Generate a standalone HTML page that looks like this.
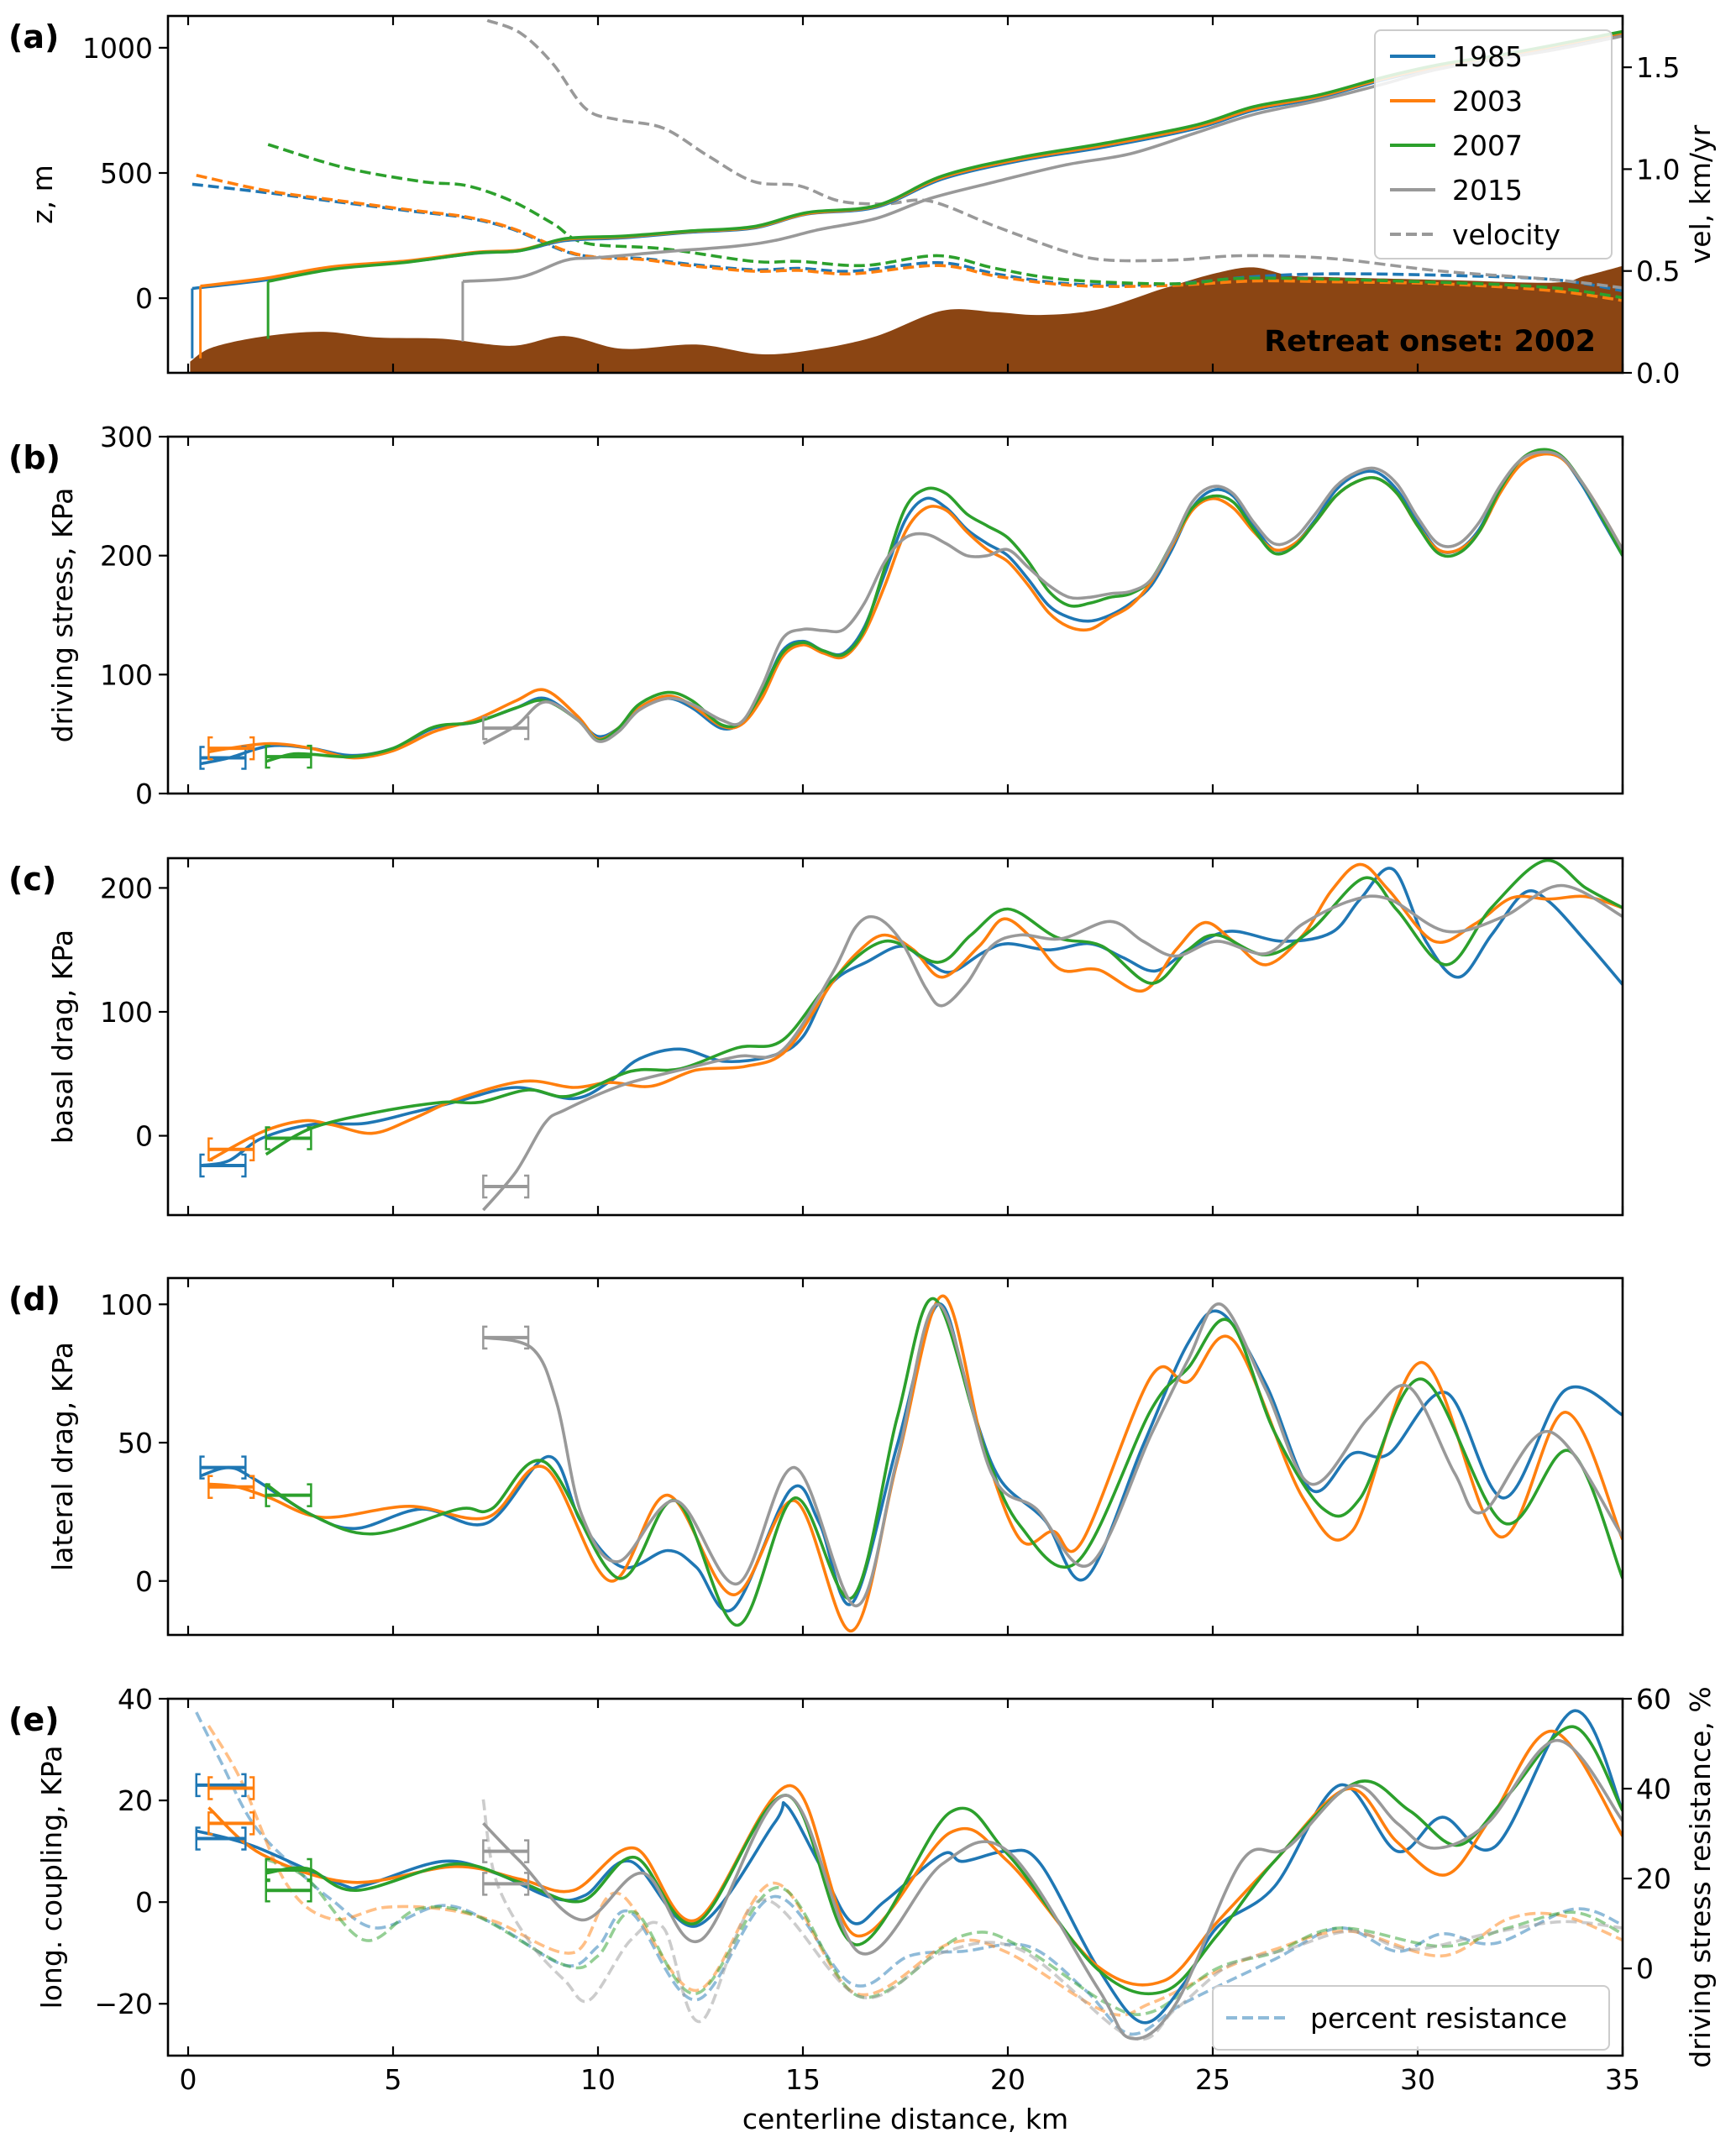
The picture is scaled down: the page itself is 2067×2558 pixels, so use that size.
<!DOCTYPE html>
<html><head><meta charset="utf-8">
<style>
html,body{margin:0;padding:0;background:#fff;}
svg{display:block;font-family:"DejaVu Sans","Liberation Sans",sans-serif;}
</style></head>
<body>
<svg id="fig" xmlns="http://www.w3.org/2000/svg" width="2067" height="2558" viewBox="0 0 2067 2558"></svg>
<script>
// ---------- DATA ----------
const years = ["1985","2003","2007","2015"];
const colors = ["#1f77b4","#ff7f0e","#2ca02c","#999999"];
const xTicks = [0,5,10,15,20,25,30,35];

// Panel (a): surface elevation (m)
const aSurf1985 = [[0.1,39],[1.9,73],[3.5,118],[5.4,146],[7,179],[8.1,190],[9.2,230],[10.6,241],[12.2,263],[13.8,280],[15.1,336],[16.8,364],[18.4,476],[20.3,549],[22.4,605],[24.6,678],[26,750],[27.6,801],[29.2,874],[30.6,924],[31.9,958],[33.3,1002],[35,1058]];
const aSurf2003 = [[0.3,48],[1.9,80],[3.5,125],[5.4,150],[7,183],[8.1,193],[9.2,235],[10.6,245],[12.2,266],[13.8,283],[15.1,338],[16.8,368],[18.4,482],[20.3,555],[22.4,612],[24.6,684],[26,756],[27.6,806],[29.2,878],[30.6,928],[31.9,962],[33.3,1005],[35,1060]];
const aSurf2007 = [[1.95,67],[3.5,115],[5.4,145],[7,180],[8.1,190],[9.2,238],[10.6,248],[12.2,268],[13.8,286],[15.1,342],[16.8,370],[18.4,488],[20.3,562],[22.4,620],[24.6,692],[26,765],[27.6,812],[29.2,884],[30.6,935],[31.9,968],[33.3,1010],[35,1065]];
const aSurf2015 = [[6.7,67],[8.1,84],[9.2,151],[10,162],[11.6,185],[13.3,207],[14.3,230],[15.4,274],[16.8,319],[18.1,398],[19.7,465],[21.4,532],[23,577],[24.6,661],[26,734],[27.6,790],[29.2,857],[30.6,918],[33.3,991],[35,1047]];
const aTermBase = [-240,-240,-162,-173];
const aBed = [[0.05,-253],[0.6,-196],[1.9,-151],[3.3,-134],[4.6,-157],[6.2,-162],[7.9,-190],[9.2,-151],[10.6,-202],[12.4,-185],[14,-224],[15.4,-202],[16.8,-151],[18.4,-50],[19.7,-56],[20.8,-67],[22.2,-45],[23.8,39],[25.1,101],[26,123],[26.9,90],[27.9,84],[30.6,73],[33.3,62],[34.1,90],[35,129]];
// velocity km/yr (right axis)
const aVel1985 = [[0.1,0.926],[1.9,0.885],[3.5,0.843],[5.4,0.795],[6.8,0.761],[7.9,0.706],[9.2,0.596],[10,0.568],[11.1,0.561],[12.2,0.534],[13.8,0.506],[14.9,0.513],[16.2,0.499],[18.3,0.541],[19.7,0.486],[21.1,0.444],[22.4,0.431],[24.1,0.437],[26,0.472],[27.9,0.486],[30.6,0.479],[33.3,0.458],[35,0.403]];
const aVel2003 = [[0.2,0.97],[1.9,0.895],[3.5,0.85],[5.4,0.80],[6.8,0.765],[7.9,0.71],[9.2,0.60],[10,0.566],[11.1,0.556],[12.2,0.527],[13.8,0.499],[14.9,0.503],[16.2,0.486],[18.3,0.527],[19.7,0.475],[21.1,0.437],[22.4,0.424],[24.1,0.43],[26,0.451],[27.9,0.447],[30.6,0.437],[33.3,0.403],[35,0.355]];
const aVel2007 = [[1.95,1.121],[3.8,1.008],[5.7,0.939],[6.8,0.919],[7.9,0.843],[8.9,0.733],[9.7,0.637],[11.6,0.609],[13.8,0.547],[14.9,0.547],[16.5,0.527],[18.3,0.575],[19.7,0.513],[21.4,0.458],[24.1,0.437],[26,0.465],[30.6,0.444],[33.3,0.417],[35,0.369]];
const aVel2015 = [[7.3,1.73],[8.1,1.669],[8.9,1.517],[9.7,1.297],[10.5,1.242],[11.6,1.201],[12.7,1.063],[13.8,0.939],[14.9,0.919],[15.9,0.843],[17,0.829],[18.1,0.843],[19.7,0.719],[21.4,0.596],[22.4,0.554],[24.1,0.554],[25.7,0.575],[27.9,0.561],[30.6,0.499],[33.3,0.458],[35,0.417]];

// Panel (b): driving stress
const b1985 = [[0.3,25],[1,30],[2,40],[3,38],[4,32],[5,38],[6,55],[7,60],[8,72],[8.7,80],[9.5,62],[10,48],[10.5,55],[11,72],[11.7,80],[12.3,72],[13,55],[13.5,60],[14,85],[14.5,120],[15,128],[15.5,120],[16,118],[16.5,140],[17,185],[17.5,230],[18,248],[18.5,240],[19,222],[19.5,210],[20,200],[20.5,180],[21,158],[21.5,148],[22,145],[22.5,150],[23,160],[23.5,175],[24,205],[24.5,240],[25,255],[25.5,250],[26,225],[26.5,205],[27,210],[27.5,230],[28,255],[28.5,268],[29,270],[29.5,255],[30,228],[30.5,205],[31,205],[31.5,222],[32,255],[32.5,280],[33,288],[33.5,283],[34,260],[34.5,230],[35,200]];
const b2003 = [[0.5,35],[1,38],[2,42],[3,38],[4,30],[5,36],[6,52],[7,62],[8,78],[8.7,87],[9.5,65],[10,46],[10.5,55],[11,72],[11.7,82],[12.3,74],[13,57],[13.5,58],[14,80],[14.5,115],[15,125],[15.5,118],[16,115],[16.5,135],[17,175],[17.5,220],[18,240],[18.5,238],[19,220],[19.5,205],[20,195],[20.5,175],[21,152],[21.5,140],[22,138],[22.5,148],[23,158],[23.5,178],[24,208],[24.5,238],[25,248],[25.5,240],[26,220],[26.5,205],[27,210],[27.5,228],[28,250],[28.5,262],[29,265],[29.5,252],[30,225],[30.5,205],[31,205],[31.5,220],[32,252],[32.5,276],[33,285],[33.5,282],[34,262],[34.5,235],[35,205]];
const b2007 = [[1.9,27],[2.5,33],[3,33],[4,31],[5,38],[6,56],[7,60],[8,72],[8.7,78],[9.5,62],[10,45],[10.5,55],[11,75],[11.7,85],[12.3,78],[13,58],[13.5,60],[14,85],[14.5,118],[15,127],[15.5,120],[16,117],[16.5,138],[17,190],[17.5,240],[18,256],[18.5,252],[19,235],[19.5,225],[20,215],[20.5,195],[21,170],[21.5,158],[22,160],[22.5,165],[23,168],[23.5,180],[24,210],[24.5,240],[25,250],[25.5,245],[26,222],[26.5,202],[27,208],[27.5,228],[28,250],[28.5,262],[29,265],[29.5,252],[30,225],[30.5,202],[31,202],[31.5,220],[32,255],[32.5,280],[33,289],[33.5,284],[34,262],[34.5,232],[35,200]];
const b2015 = [[7.2,42],[8,57],[8.7,77],[9.5,62],[10,44],[10.5,52],[11,70],[11.7,80],[12.3,75],[13,62],[13.5,60],[14,90],[14.5,130],[15,138],[15.5,137],[16,138],[16.5,160],[17,195],[17.5,215],[18,218],[18.5,210],[19,200],[19.5,200],[20,205],[20.5,190],[21,175],[21.5,165],[22,165],[22.5,168],[23,170],[23.5,180],[24,210],[24.5,245],[25,258],[25.5,252],[26,228],[26.5,210],[27,215],[27.5,235],[28,258],[28.5,270],[29,273],[29.5,260],[30,232],[30.5,210],[31,210],[31.5,228],[32,258],[32.5,280],[33,287],[33.5,283],[34,262],[34.5,235],[35,205]];
const bErr = [[0.3,1.4,30],[0.5,1.6,38],[1.9,3.0,31],[7.2,8.3,55]];

// Panel (c): basal drag
const c1985 = [[0.3,-24],[1,-20],[1.8,-2],[3,9],[4.3,10],[5.5,19],[6.6,28],[8,39],[9.4,30],[10.3,44],[11,62],[12,70],[13.1,60],[14.3,65],[15,80],[15.7,123],[16.6,141],[17.4,153],[18,141],[18.6,132],[19.4,148],[20,155],[21,150],[22,155],[22.8,144],[23.6,133],[24.4,150],[25.4,165],[26.7,157],[27.9,164],[28.6,191],[29.4,215],[30.2,157],[31,128],[31.8,162],[32.6,196],[33.2,189],[34.1,157],[35,122]];
const c2003 = [[0.5,-20],[1.8,3],[2.8,12],[3.5,9],[4.5,2],[5.5,14],[6.6,30],[8.2,44],[9.4,39],[10.3,43],[11.3,40],[12.4,53],[13.6,56],[14.6,69],[15.7,123],[16.4,150],[17,162],[17.7,150],[18.4,128],[19.3,153],[19.9,175],[20.6,159],[21.3,134],[22.2,134],[23.3,117],[24.1,150],[24.8,172],[25.5,157],[26.3,138],[27.2,162],[27.9,198],[28.6,219],[29.3,198],[30.4,157],[31.4,171],[32.3,192],[33.2,191],[34.1,193],[35,184]];
const c2007 = [[1.9,-15],[3,6],[4.6,19],[6.2,27],[7.1,27],[8.3,37],[9.3,32],[10.8,52],[12,54],[13.4,71],[14.5,77],[15.7,125],[17,157],[18.3,140],[19.1,162],[20,183],[21.2,160],[22.3,153],[23.5,123],[24.4,150],[25.1,162],[26.3,146],[27.4,166],[28.7,208],[29.5,182],[30.7,138],[31.8,184],[33.1,222],[34.1,200],[35,184]];
const c2015 = [[7.2,-60],[8,-29],[8.7,10],[9.2,21],[10.6,41],[12,53],[13.4,64],[14.5,69],[15.7,130],[16.3,169],[16.8,176],[17.4,157],[18,119],[18.4,105],[19,123],[19.6,153],[20.3,162],[21.3,159],[22.5,173],[23.3,157],[24.1,145],[25.1,157],[26.3,147],[27.2,171],[28.4,190],[29.3,191],[30.7,165],[32.1,177],[33.5,202],[35,177]];
const cErr = [[0.3,1.4,-24],[0.5,1.6,-11],[1.9,3.0,-2],[7.2,8.3,-41]];

// Panel (d): lateral drag
const d1985 = [[0.3,38],[1,41],[1.6,37],[3,24],[4.1,19],[5.7,26],[7.3,21],[8.8,45],[9.6,21],[10.6,5],[11.7,11],[12.4,5],[13.3,-10],[14.7,33],[15.4,21],[16.2,-8],[17.3,49],[18.3,100],[19.1,64],[19.8,37],[20.9,22],[21.9,1],[23.3,49],[24.4,86],[25.2,97],[26.3,71],[27.4,33],[28.4,46],[29.3,46],[30.7,68],[32.1,30],[33.6,69],[35,60]];
const d2003 = [[0.5,35],[1.2,34],[2,30],[3.3,23],[5.4,27],[7.3,23],[8.7,41],[10.3,0],[11.7,31],[13.3,-5],[14.8,29],[16.2,-18],[17.3,43],[18.4,103],[19.4,49],[20.3,15],[21.1,18],[21.8,14],[23.5,74],[24.4,72],[25.5,87],[27.2,30],[28.4,18],[30.1,79],[32,16],[33.6,61],[35,15]];
const d2007 = [[1.9,35],[3,24],[4.5,17],[6.6,26],[7.4,26],[8.7,43],[10.5,1],[11.9,29],[13.4,-16],[14.8,30],[16.2,-6],[17.3,59],[18.2,102],[19.4,49],[20.3,20],[21.7,7],[23.5,62],[24.4,77],[25.4,94],[26.5,54],[27.7,26],[28.6,30],[30.1,73],[32.1,21],[33.7,47],[35,1]];
const d2015 = [[7.2,88],[8.4,84],[9,64],[9.6,24],[10.5,7],[11.9,29],[13.4,-1],[14.8,41],[16.3,-9],[17.3,44],[18.3,100],[19.6,39],[20.7,26],[22,6],[23.5,53],[24.4,80],[25.2,100],[26.3,69],[27.4,35],[28.8,59],[29.8,70],[30.9,39],[31.6,25],[33.2,54],[35,16]];
const dErr = [[0.3,1.4,41],[0.5,1.6,34],[1.9,3.0,31],[7.2,8.3,88]];

// Panel (e): longitudinal coupling (left) and percent resistance (right)
const e1985 = [[0.2,14],[1.6,11],[3.7,3.6],[4.3,3.3],[6.2,8],[7.5,5.7],[8.9,0.8],[9.7,1.4],[10.8,8],[12.4,-4.7],[14.3,15.5],[14.6,19],[15.4,7.5],[16.2,-4],[17,0.2],[18.4,9.4],[18.9,8],[20,10],[20.8,7.5],[22.2,-13],[23.3,-23.7],[24.3,-16],[25.1,-5],[26.5,3],[28.1,23],[29.5,10],[30.6,16.7],[31.9,11],[33.8,37.6],[35,18]];
const e2003 = [[0.5,18.6],[1.8,9.4],[4,3.9],[6.5,7],[8.1,4.5],[9.4,2.3],[10.9,10.6],[12.4,-3.5],[14.7,22.9],[16.3,-6.6],[18.6,13.7],[20,8],[22.2,-12.7],[23.8,-15.5],[25.1,-4],[26.5,8],[28.3,22.3],[29.5,11.8],[30.7,5.4],[31.8,16.7],[33.3,33.6],[35,13]];
const e2007 = [[1.9,5.7],[2.9,6.6],[4.1,2.3],[6.5,7.5],[8.1,3.9],[9.6,0.2],[10.9,8.8],[12.4,-4.1],[14.6,21],[16.3,-8.4],[18.6,17.7],[20,9.4],[22.2,-13.3],[23.8,-17.6],[25.1,-6.6],[26.5,8],[28.5,23.5],[29.8,18],[31,11.2],[32.2,21],[33.8,34.5],[35,18]];
const e2015 = [[7.2,15.5],[8.1,8],[9.6,-3.5],[11.1,5.7],[12.5,-7.5],[14.6,21],[16.4,-10],[18.4,7.5],[20,10],[22.2,-17],[23,-26.8],[24.1,-20],[25.7,8],[26.8,10.6],[28.4,22.9],[29.5,15.5],[30.4,10.6],[31.7,15.5],[33.4,31.8],[35,16]];
const eErrA = [[0.2,1.4,12.5],[0.5,1.6,15.5],[1.9,3.0,6.3],[7.2,8.3,10]];
const eErrB = [[0.2,1.4,23],[0.5,1.6,22.4],[1.9,3.0,2.3],[7.2,8.3,3.6]];
const ePct1985 = [[0.2,57],[0.8,46],[1.6,32],[2.7,21.6],[3.5,15.3],[4.6,9],[6.2,14],[7.5,9.7],[9.2,0.7],[10,4.9],[10.8,12.5],[12.4,-7],[14.3,16],[16.2,-3.5],[17.6,2.8],[18.9,3.8],[20.5,4.9],[21.9,-4.9],[23,-14.6],[24.3,-7.7],[26.5,2],[28.1,9],[29.5,3.8],[30.6,7.7],[31.9,5.6],[33.8,13.2],[35,9.7]];
const ePct2003 = [[0.5,54],[1.3,41.7],[2.4,18.8],[3.5,11],[4.8,13.6],[6.2,13.2],[7.5,10.4],[9.4,3.5],[10.5,16.7],[12.4,-4.9],[14.3,19],[16.3,-5.6],[18.6,5.6],[20,3.5],[22.4,-9.7],[23.5,-7.7],[25.1,-0.7],[26.5,4.2],[28.3,8.3],[30.6,2.8],[32.2,11],[33.5,11.8],[35,6.3]];
const ePct2007 = [[1.9,24.3],[2.9,20],[4.3,6.3],[5.6,13.2],[7,11.8],[9.2,0.7],[10,2.8],[10.9,12.5],[12.4,-5.6],[14.4,18],[16.4,-6.3],[18.9,7.3],[20.3,4.9],[22.4,-7.7],[23.5,-9.7],[25.1,0],[26.5,3.5],[28.1,9],[30.6,4.9],[32.2,9],[33.8,12.5],[35,7.7]];
const ePct2015 = [[7.2,37.6],[7.5,20],[8.3,6.3],[9.2,-2.8],[9.8,-7],[10.8,6.3],[11.6,9],[12.5,-11.8],[14,15.3],[16.4,-6.3],[18.4,3.5],[20.3,4.2],[23,-15.3],[24.1,-9],[25.4,0.7],[26.8,4.2],[28.4,8.3],[29.8,4.2],[31.7,7.7],[33.5,10.4],[35,9]];

// ---------- DRAWING ----------
const NS = "http://www.w3.org/2000/svg";
const svg = document.getElementById("fig");
const L = 200, R = 1932;
function X(km){ return 224 + 48.8*km; }
function mk(tag, attrs, parent){
  const e = document.createElementNS(NS, tag);
  for (const k in attrs) e.setAttribute(k, attrs[k]);
  (parent||svg).appendChild(e);
  return e;
}
function txt(s, x, y, opts, parent){
  const t = mk("text", Object.assign({x:x, y:y, "font-size":33, fill:"#000"}, opts||{}), parent);
  t.textContent = s;
  return t;
}
function fmt(v){ return (v<0 ? "\u2212" : "") + Math.abs(v); }
function smoothPath(pts){
  if (!pts.length) return "";
  let d = "M" + pts[0][0].toFixed(1) + "," + pts[0][1].toFixed(1);
  for (let i=0;i<pts.length-1;i++){
    const p0 = pts[Math.max(0,i-1)], p1 = pts[i], p2 = pts[i+1], p3 = pts[Math.min(pts.length-1,i+2)];
    const c1x = p1[0] + (p2[0]-p0[0])/6, c1y = p1[1] + (p2[1]-p0[1])/6;
    const c2x = p2[0] - (p3[0]-p1[0])/6, c2y = p2[1] - (p3[1]-p1[1])/6;
    d += " C" + c1x.toFixed(1)+","+c1y.toFixed(1)+" "+c2x.toFixed(1)+","+c2y.toFixed(1)+" "+p2[0].toFixed(1)+","+p2[1].toFixed(1);
  }
  return d;
}
function makeY(top, bot, ymin, ymax){ return v => bot - (v-ymin)/(ymax-ymin)*(bot-top); }

function drawLine(g, data, Y, color, name, dash, opacity){
  const pts = data.map(p => [X(p[0]), Y(p[1])]);
  const el = mk("path", {d: smoothPath(pts), fill:"none", stroke:color, "stroke-width":3.6, "stroke-linejoin":"round"}, g);
  if (dash) el.setAttribute("stroke-dasharray", dash);
  if (opacity) el.setAttribute("stroke-opacity", opacity);
  
  
  return el;
}
function drawErr(g, e, Y, color, name){
  const y = Y(e[2]), x1 = X(e[0]), x2 = X(e[1]);
  const grp = mk("g", {stroke:color, "stroke-width":2.5, fill:"none"}, g);
  
  
  mk("line", {x1:x1, y1:y, x2:x2, y2:y, "stroke-width":4}, grp);
  mk("path", {d:"M"+(x1+5)+","+(y-13)+" h-5 v26 h5"}, grp);
  mk("path", {d:"M"+(x2-5)+","+(y-13)+" h5 v26 h-5"}, grp);
}
function frame(top, bot, yTicks, Y, yLabel, labelX, panelLetter, name){
  const g = mk("g", {});
  
  
  mk("rect", {x:L, y:top, width:R-L, height:bot-top, fill:"none", stroke:"#000", "stroke-width":2.6}, g);
  xTicks.forEach(v => {
    mk("line", {x1:X(v), y1:bot, x2:X(v), y2:bot-11, stroke:"#000", "stroke-width":2.2}, g);
    mk("line", {x1:X(v), y1:top, x2:X(v), y2:top+11, stroke:"#000", "stroke-width":2.2}, g);
  });
  yTicks.forEach(v => {
    mk("line", {x1:L, y1:Y(v), x2:L-11, y2:Y(v), stroke:"#000", "stroke-width":2.2}, g);
    txt(fmt(v), L-18, Y(v)+12, {"text-anchor":"end"}, g);
  });
  const yl = txt(yLabel, labelX, (top+bot)/2, {"text-anchor":"middle", transform:"rotate(-90 "+labelX+" "+((top+bot)/2)+")"}, g);
  
  
  const pl = txt(panelLetter, 10, top+38, {"font-weight":"bold", "font-size":38}, g);
  
  
  return g;
}
function rightAxis(g, top, bot, ticks, Y2, label, decimals){
  ticks.forEach(v => {
    mk("line", {x1:R, y1:Y2(v), x2:R+11, y2:Y2(v), stroke:"#000", "stroke-width":2.2}, g);
    txt(decimals ? v.toFixed(decimals) : fmt(v), R+16, Y2(v)+12, {"text-anchor":"start"}, g);
  });
  const lx = 2036, cy = (top+bot)/2;
  const t = txt(label, lx, cy, {"text-anchor":"middle", transform:"rotate(-90 "+lx+" "+cy+")"}, g);
  
  
}

// ----- Panel (a)
(function(){
  const top=19, bot=444;
  const Y = makeY(top, bot, -298, 1127);
  const Y2 = makeY(top, bot, 0, 1.752);
  const clipA = mk("clipPath", {id:"clipA"});
  mk("rect", {x:L, y:top, width:R-L, height:bot-top}, clipA);
  const g = mk("g", {"clip-path":"url(#clipA)"});
  
  
  const bedPts = aBed.map(p => [X(p[0]), Y(p[1])]);
  let d = smoothPath(bedPts) + " L" + X(35) + "," + bot + " L" + X(aBed[0][0]) + "," + bot + " Z";
  const bed = mk("path", {d:d, fill:"#8b4513", stroke:"none"}, g);
  
  
  const surfs = [aSurf1985, aSurf2003, aSurf2007, aSurf2015];
  const vels = [aVel1985, aVel2003, aVel2007, aVel2015];
  vels.forEach((v,i) => {
    const pts = v.map(p => [X(p[0]), Y2(p[1])]);
    const el = mk("path", {d:smoothPath(pts), fill:"none", stroke:colors[i], "stroke-width":3.6, "stroke-dasharray":"13,6"}, g);
    
    
  });
  surfs.forEach((s,i) => {
    const term = mk("line", {x1:X(s[0][0]), y1:Y(aTermBase[i]), x2:X(s[0][0]), y2:Y(s[0][1]), stroke:colors[i], "stroke-width":3}, g);
    
    
    drawLine(g, s, Y, colors[i], 'surface-' + years[i]);
  });
  const f = frame(top, bot, [0,500,1000], Y, "z, m", 62, "(a)", "panel-a");
  rightAxis(f, top, bot, [0,0.5,1.0,1.5], Y2, "vel, km/yr", 1);
  const ro = txt("Retreat onset: 2002", 1900, 418, {"text-anchor":"end", "font-weight":"bold", "font-size":35});
  
  
  const lg = mk("g", {});
  
  
  mk("rect", {x:1637, y:36, width:282, height:272, rx:7, fill:"#fff", "fill-opacity":0.85, stroke:"#cccccc", "stroke-width":2}, lg);
  const labels = years.concat(["velocity"]);
  labels.forEach((s,i) => {
    const y = 67 + i*53;
    const ln = mk("line", {x1:1655, y1:y, x2:1709, y2:y, stroke: i<4 ? colors[i] : "#999999", "stroke-width":4}, lg);
    if (i===4) ln.setAttribute("stroke-dasharray","13,6");
    
    
    const t = txt(s, 1729, y+12, {}, lg);
    
    
  });
})();

// ----- Panels (b)-(d)
function stdPanel(top, ymin, ymax, series, errs, ticks, label, letter, name){
  const bot = top + 425;
  const Y = makeY(top, bot, ymin, ymax);
  const cid = "clip" + name;
  const cp = mk("clipPath", {id:cid});
  mk("rect", {x:L, y:top, width:R-L, height:bot-top}, cp);
  const g = mk("g", {"clip-path":"url(#"+cid+")"});
  
  
  series.forEach((s,i) => drawLine(g, s, Y, colors[i], name + '-line-' + years[i]));
  errs.forEach((e,i) => drawErr(g, e, Y, colors[i], name + '-errorbar-' + years[i]));
  frame(top, bot, ticks, Y, label, 86, letter, name);
  return {Y:Y, g:g, bot:bot};
}
stdPanel(520, 0, 300, [b1985,b2003,b2007,b2015], bErr, [0,100,200,300], "driving stress, KPa", "(b)", "panel-b");
stdPanel(1022, -64, 224, [c1985,c2003,c2007,c2015], cErr, [0,100,200], "basal drag, KPa", "(c)", "panel-c");
stdPanel(1522, -19.5, 109.5, [d1985,d2003,d2007,d2015], dErr, [0,50,100], "lateral drag, KPa", "(d)", "panel-d");

// ----- Panel (e)
(function(){
  const top=2023, bot=2448;
  const Y = makeY(top, bot, -30.2, 40);
  const Y2 = makeY(top, bot, -19.4, 60);
  const cp = mk("clipPath", {id:"clipE"});
  mk("rect", {x:L, y:top, width:R-L, height:bot-top}, cp);
  const g = mk("g", {"clip-path":"url(#clipE)"});
  
  
  [ePct1985,ePct2003,ePct2007,ePct2015].forEach((s,i) => drawLine(g, s, Y2, colors[i], 'percent-resistance-' + years[i], "13,6", 0.5));
  [e1985,e2003,e2007,e2015].forEach((s,i) => drawLine(g, s, Y, colors[i], 'long-coupling-' + years[i]));
  eErrA.forEach((e,i) => drawErr(g, e, Y, colors[i], 'panel-e-errorbar-a-' + years[i]));
  eErrB.forEach((e,i) => drawErr(g, e, Y, colors[i], 'panel-e-errorbar-b-' + years[i]));
  const f = frame(top, bot, [-20,0,20,40], Y, "long. coupling, KPa", 73, "(e)", "panel-e");
  rightAxis(f, top, bot, [0,20,40,60], Y2, "driving stress resistance, %");
  xTicks.forEach(v => {
    const t = txt(String(v), X(v), 2488, {"text-anchor":"middle"});
    
    
  });
  const xl = txt("centerline distance, km", X(17.5), 2535, {"text-anchor":"middle"});
  
  
  const lg = mk("g", {});
  
  
  mk("rect", {x:1444, y:2365, width:472, height:76, rx:7, fill:"#fff", "fill-opacity":0.85, stroke:"#cccccc", "stroke-width":2}, lg);
  const ln = mk("line", {x1:1460, y1:2403, x2:1534, y2:2403, stroke:"#1f77b4", "stroke-opacity":0.5, "stroke-width":4, "stroke-dasharray":"13,6"}, lg);
  
  
  const t = txt("percent resistance", 1560, 2415, {}, lg);
  
  
})();
</script>
</body></html>
